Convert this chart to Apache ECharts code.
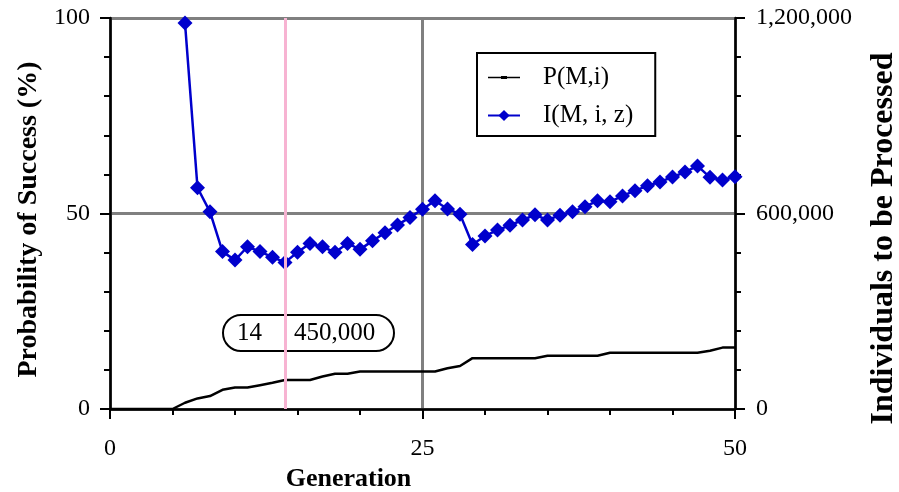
<!DOCTYPE html>
<html>
<head>
<meta charset="utf-8">
<script src="https://cdn.jsdelivr.net/npm/echarts@6/dist/echarts.min.js"></script>
<style>
  html, body { margin: 0; padding: 0; background: #fff; }
  #chart { width: 899px; height: 492px; }
</style>
</head>
<body>
<div id="chart"></div>
<script>
// generations 0..50
var generations = [];
for (var g = 0; g <= 50; g++) generations.push(g);

// P(M,i) in percent, one value per generation
var probSuccess = [
  0, 0, 0, 0, 0, 0, 1.6, 2.7, 3.3, 4.9,
  5.5, 5.5, 6.1, 6.7, 7.4, 7.4, 7.4, 8.3, 9.0, 9.0,
  9.6, 9.6, 9.6, 9.6, 9.6, 9.6, 9.6, 10.4, 11.0, 13.0,
  13.0, 13.0, 13.0, 13.0, 13.0, 13.6, 13.6, 13.6, 13.6, 13.6,
  14.4, 14.4, 14.4, 14.4, 14.4, 14.4, 14.4, 14.4, 14.9, 15.7,
  15.7
];

// I(M,i,z), no value while P is zero
var individuals = [
  null, null, null, null, null, null, 1185000, 679000, 605000, 483000,
  457000, 498000, 483000, 466000, 450000, 481000, 508000, 498000, 481000, 508000,
  490000, 516000, 541000, 565000, 588000, 613000, 639000, 614000, 598000, 505000,
  531000, 549000, 564000, 580000, 596000, 580000, 595000, 605000, 621000, 639000,
  636000, 654000, 670000, 685000, 697000, 712000, 727000, 746000, 711000, 703000,
  713000
];

var bestGen = 14;

var FONT = 'Liberation Serif';

function commas(v) {
  return String(v).replace(/\B(?=(\d{3})+(?!\d))/g, ',');
}

var pData = [], iData = [];
for (var k = 0; k < generations.length; k++) {
  pData.push([generations[k], probSuccess[k]]);
  if (individuals[k] != null) iData.push([generations[k], individuals[k]]);
}

var myChart = echarts.init(document.getElementById('chart'));

var tickStyle = { color: '#000', width: 2 };

option = {
  backgroundColor: '#fff',
  animation: false,
  textStyle: { fontFamily: FONT },
  grid: {
    left: 110, right: 164, top: 18, bottom: 83,
    outerBoundsMode: 'none',
    containLabel: false,
    show: true, borderColor: '#000', borderWidth: 2, backgroundColor: 'transparent'
  },
  legend: {
    orient: 'vertical',
    left: 477, top: 53,
    padding: [12, 22, 8, 10],
    borderColor: '#000', borderWidth: 2,
    itemWidth: 32, itemHeight: 14, itemGap: 13,
    textStyle: { fontFamily: FONT, fontSize: 25, color: '#000', padding: [0, 0, 0, 18] },
    data: [
      { name: 'P(M,i)', icon: 'path://M0,0M32,14M0,6.2H32V7.8H0ZM13,5.4H19V8.6H13Z' },
      'I(M, i, z)'
    ]
  },
  xAxis: {
    type: 'value', min: 0, max: 50, interval: 25,
    name: 'Generation', nameLocation: 'middle', nameGap: 52,
    nameTextStyle: { fontFamily: FONT, fontSize: 26, fontWeight: 'bold', color: '#000',
      padding: [0, 148, 0, 0] },
    axisLine: { lineStyle: { color: '#000', width: 2.5 } },
    axisTick: { length: 10, lineStyle: tickStyle },
    minorTick: { show: true, splitNumber: 5, length: 6, lineStyle: tickStyle },
    axisLabel: { margin: 28, fontFamily: FONT, fontSize: 24, color: '#000' },
    splitLine: { show: true, lineStyle: { color: '#808080', width: 3 } }
  },
  yAxis: [{
    type: 'value', min: 0, max: 100, interval: 50, position: 'left',
    name: 'Probability of Success (%)', nameLocation: 'middle', nameGap: 63, nameRotate: 90,
    nameTextStyle: { fontFamily: FONT, fontSize: 28, fontWeight: 'bold', color: '#000',
      padding: [0, 12, 0, 0] },
    axisLine: { show: true, lineStyle: { color: '#000', width: 2.5 } },
    axisTick: { show: true, length: 10, lineStyle: tickStyle },
    minorTick: { show: true, splitNumber: 5, length: 6, lineStyle: tickStyle },
    axisLabel: { margin: 20, fontFamily: FONT, fontSize: 24, color: '#000' },
    splitLine: { show: true, lineStyle: { color: '#808080', width: 3 } }
  }, {
    type: 'value', min: 0, max: 1200000, interval: 600000, position: 'right',
    name: 'Individuals to be Processed', nameLocation: 'middle', nameGap: 133, nameRotate: 90,
    nameTextStyle: { fontFamily: FONT, fontSize: 32, fontWeight: 'bold', color: '#000',
      padding: [0, 50, 0, 0] },
    axisLine: { show: true, lineStyle: { color: '#000', width: 2.5 } },
    axisTick: { show: true, length: 10, lineStyle: tickStyle },
    minorTick: { show: true, splitNumber: 5, length: 6, lineStyle: tickStyle },
    axisLabel: { margin: 21, fontFamily: FONT, fontSize: 24, color: '#000',
      formatter: function (v) { return commas(v); } },
    splitLine: { show: false }
  }],
  series: [{
    name: 'P(M,i)',
    type: 'line',
    yAxisIndex: 0,
    z: 2,
    symbol: 'none',
    lineStyle: { color: '#000', width: 2.5 },
    itemStyle: { color: '#000' },
    data: pData,
    markLine: {
      silent: true,
      symbol: 'none',
      label: { show: false },
      lineStyle: { color: '#f7b3d2', width: 3, type: 'solid' },
      data: [{ xAxis: bestGen }]
    }
  }, {
    name: 'I(M, i, z)',
    type: 'line',
    yAxisIndex: 1,
    z: 3,
    symbol: 'diamond',
    symbolSize: 15,
    lineStyle: { color: '#0000cc', width: 2.5 },
    itemStyle: { color: '#0000cc' },
    data: iData
  }],
  graphic: [{
    type: 'group',
    left: 222, top: 314,
    children: [{
      type: 'rect',
      shape: { x: 0, y: 0, width: 171, height: 36, r: 18 },
      style: { fill: 'transparent', stroke: '#000', lineWidth: 2 }
    }, {
      type: 'text', x: 14, y: 18,
      style: { text: String(bestGen), font: '25px "Liberation Serif"', fill: '#000', verticalAlign: 'middle' }
    }, {
      type: 'text', x: 71, y: 18,
      style: { text: commas(individuals[bestGen]), font: '25px "Liberation Serif"', fill: '#000', verticalAlign: 'middle' }
    }]
  }]
};

myChart.setOption(option);
</script>
</body>
</html>
